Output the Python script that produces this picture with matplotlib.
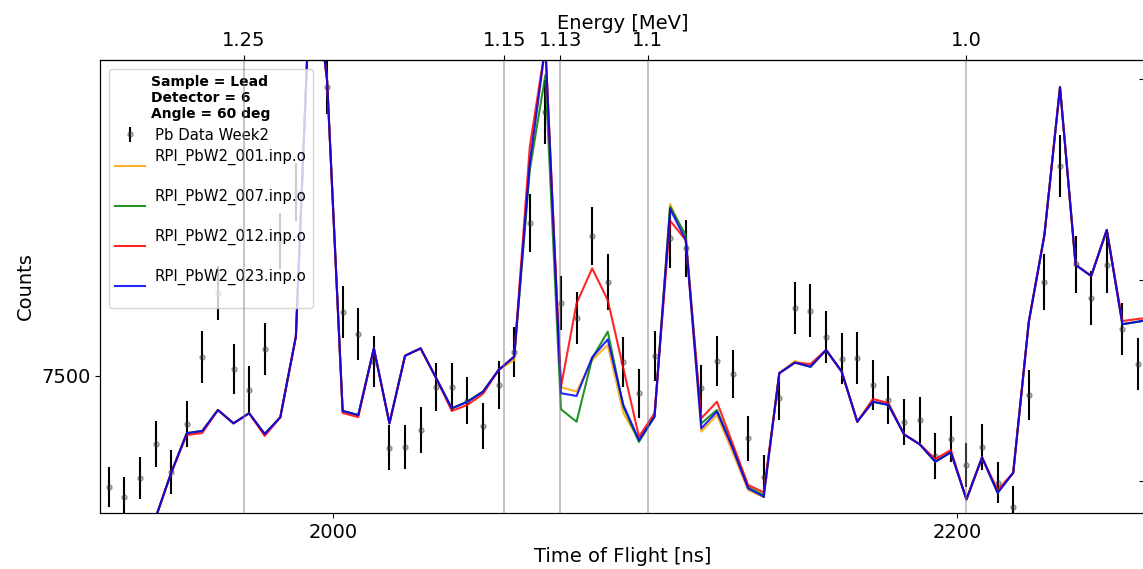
import matplotlib
matplotlib.use("Agg")
import matplotlib.pyplot as plt
import numpy as np

# time-of-flight bin centres [ns]
tof = [1928, 1933, 1938, 1943, 1948, 1953, 1958, 1963, 1968, 1973,
       1978, 1983, 1988, 1993, 1998, 2003, 2008, 2013, 2018, 2023,
       2028, 2033, 2038, 2043, 2048, 2053, 2058, 2063, 2068, 2073,
       2078, 2083, 2088, 2093, 2098, 2103, 2108, 2113, 2118, 2123,
       2128, 2133, 2138, 2143, 2148, 2153, 2158, 2163, 2168, 2173,
       2178, 2183, 2188, 2193, 2198, 2203, 2208, 2213, 2218, 2223,
       2228, 2233, 2238, 2243, 2248, 2253, 2258, 2263]

data_counts = [7016, 6970, 7053, 7201, 7079, 7288, 7579, 7858, 7528, 7437,
               7614, 8085, 8300, 9347, 8756, 7776, 7682, 7560, 7186, 7190,
               7263, 7451, 7449, 7390, 7282, 7459, 7601, 8162, 8645, 7814,
               7751, 8107, 7905, 7560, 7423, 7585, 8097, 8053, 7444, 7564,
               7505, 7227, 7060, 7401, 7795, 7782, 7667, 7572, 7575, 7459,
               7393, 7299, 7306, 7150, 7222, 7111, 7188, 7034, 6929, 7415,
               7908, 8411, 7984, 7836, 7981, 7702, 7549]

data_err = [87, 87, 91, 100, 96, 100, 113, 117, 109, 104,
            113, 120, 126, 144, 120, 113, 113, 111, 98, 96,
            100, 104, 104, 102, 100, 104, 109, 126, 139, 117,
            113, 126, 122, 109, 107, 109, 131, 124, 102, 109,
            104, 98, 94, 96, 113, 115, 113, 111, 113, 107,
            104, 100, 100, 98, 100, 96, 100, 89, 91, 107,
            122, 135, 124, 117, 124, 113, 113]

model_001 = [6697, 6763, 6828, 6880, 7076, 7249, 7259, 7350, 7292, 7336,
             7246, 7318, 7669, 9347, 8785, 7346, 7328, 7618, 7292, 7586,
             7618, 7488, 7357, 7386, 7430, 7524, 7567, 8416, 8933, 7449,
             7430, 7567, 7633, 7336, 7219, 7321, 8246, 8089, 7256, 7328,
             7167, 7002, 6971, 7510, 7563, 7538, 7611, 7517, 7299, 7386,
             7372, 7244, 7201, 7125, 7166, 6961, 7144, 6990, 7077, 7734,
             8111, 8754, 7981, 7933, 8133, 7723, 7734, 7746]

model_007 = [6697, 6763, 6828, 6880, 7076, 7249, 7259, 7350, 7292, 7336,
             7246, 7318, 7669, 9347, 8785, 7346, 7328, 7618, 7292, 7586,
             7618, 7488, 7357, 7386, 7430, 7524, 7582, 8394, 8807, 7353,
             7299, 7575, 7691, 7364, 7211, 7321, 8234, 8111, 7292, 7350,
             7193, 7015, 6980, 7510, 7556, 7538, 7611, 7517, 7299, 7386,
             7372, 7244, 7201, 7125, 7166, 6961, 7144, 6990, 7077, 7734,
             8111, 8754, 7981, 7933, 8133, 7723, 7734, 7746]

model_012 = [6697, 6763, 6828, 6880, 7076, 7241, 7250, 7350, 7292, 7336,
             7237, 7318, 7669, 9347, 8785, 7337, 7319, 7618, 7292, 7586,
             7618, 7488, 7346, 7372, 7420, 7524, 7582, 8495, 8933, 7451,
             7814, 7966, 7828, 7531, 7234, 7336, 8173, 8089, 7314, 7386,
             7205, 7024, 6992, 7511, 7556, 7550, 7611, 7517, 7299, 7398,
             7380, 7244, 7201, 7137, 7176, 6961, 7144, 7002, 7077, 7734,
             8111, 8754, 7981, 7933, 8133, 7737, 7746, 7754]

model_023 = [6697, 6763, 6828, 6880, 7076, 7249, 7259, 7350, 7292, 7336,
             7246, 7318, 7669, 9347, 8785, 7346, 7328, 7618, 7292, 7586,
             7618, 7488, 7357, 7386, 7430, 7524, 7582, 8424, 8933, 7423,
             7411, 7579, 7657, 7372, 7219, 7321, 8224, 8089, 7270, 7343,
             7185, 7009, 6973, 7510, 7556, 7538, 7611, 7517, 7299, 7386,
             7372, 7244, 7201, 7125, 7166, 6961, 7144, 6990, 7077, 7734,
             8111, 8754, 7981, 7933, 8133, 7723, 7734, 7746]

models = [
    ("RPI_PbW2_001.inp.o\n", model_001, "orange"),
    ("RPI_PbW2_007.inp.o\n", model_007, "green"),
    ("RPI_PbW2_012.inp.o\n", model_012, "red"),
    ("RPI_PbW2_023.inp.o\n", model_023, "blue"),
]

energy_ticks = [1.25, 1.15, 1.13, 1.1, 1.0]

# tof = T0 + C / sqrt(E)
T0, C = 8.3, 2194.6


def e_to_tof(e):
    e = np.asarray(e, dtype=float)
    return T0 + C / np.sqrt(np.clip(e, 1e-6, None))


def tof_to_e(t):
    t = np.asarray(t, dtype=float)
    return (C / np.clip(t - T0, 1e-6, None)) ** 2


plt.rcParams["font.size"] = 14

fig = plt.figure(figsize=(11.43, 5.69), dpi=100)
ax = fig.add_axes([0.0875, 0.0984, 0.9152, 0.7961])

ax.errorbar(tof[:len(data_counts)], data_counts, yerr=data_err, fmt="o", ms=3.5,
            color="k", ecolor="k", elinewidth=1.5, capsize=0,
            mfc=(0.3, 0.3, 0.3, 0.3), mec=(0.2, 0.2, 0.2, 0.5),
            label="Pb Data Week2", zorder=2)

for label, vals, col in models:
    ax.plot(tof, vals, color=col, lw=1.5, alpha=0.85, label=label, zorder=3)

for e in energy_ticks:
    ax.axvline(e_to_tof(e), color="grey", lw=1.3, alpha=0.5, zorder=6)

ax.set_xlim(1925.2, 2260.6)
ax.set_ylim(6902, 8872)
ax.set_xticks([2000, 2200])
ax.set_yticks([7500])
ax.tick_params(labelsize=14)
ax.set_xlabel("Time of Flight [ns]", fontsize=14)
ax.set_ylabel("Counts", fontsize=14)

top = ax.secondary_xaxis("top", functions=(tof_to_e, e_to_tof))
top.set_xticks(energy_ticks)
top.set_xticklabels(["1.25", "1.15", "1.13", "1.1", "1.0"])
top.tick_params(labelsize=14)
top.set_xlabel("Energy [MeV]", fontsize=14, labelpad=2)

right = ax.twinx()
right.set_ylim(0, 1)
right.set_yticks([0.0706, 0.514, 0.958])
right.tick_params(direction="in", labelright=False, length=5)

title = "Sample = Lead\nDetector = 6\nAngle = 60 deg"
handles, labels = ax.get_legend_handles_labels()
# data entry first, then the models
order = [len(handles) - 1] + list(range(len(handles) - 1))
leg = ax.legend([handles[i] for i in order], [labels[i] for i in order],
                loc="upper left", fontsize=10.7, title=title,
                title_fontproperties={"weight": "bold", "size": 10},
                labelspacing=0.42, handletextpad=0.7, borderaxespad=0.6)
leg.set_zorder(5)

fig.savefig("out.png", dpi=100)
